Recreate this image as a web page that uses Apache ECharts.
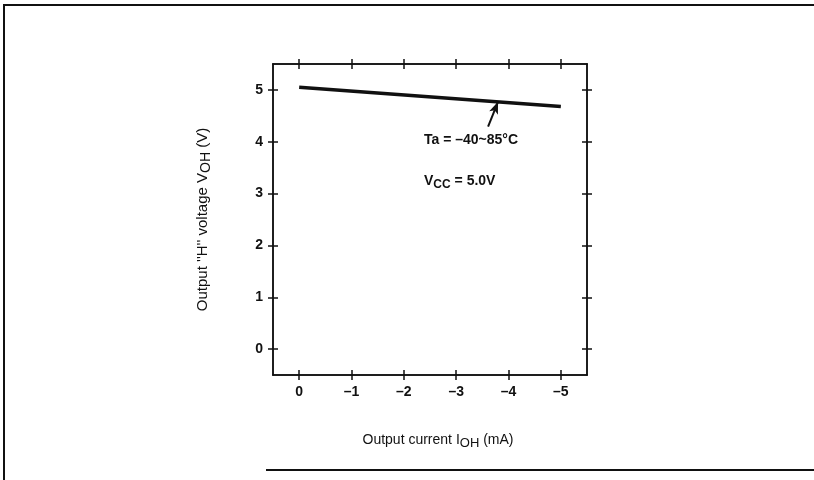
<!DOCTYPE html>
<html>
<head>
<meta charset="utf-8">
<script src="https://cdn.jsdelivr.net/npm/echarts@6/dist/echarts.min.js"></script>
<style>
  html, body { margin: 0; padding: 0; background: #fff; }
  #chart { width: 814px; height: 480px; }
</style>
</head>
<body>
<div id="chart"></div>
<script>
// output current (mA) and output "H" voltage (V)
const currentMA = [0, -5]
const voltageOH = [5.05, 4.68]
const xTicks = [0, -1, -2, -3, -4, -5]
const yTicks = [0, 1, 2, 3, 4, 5]
// arrow from label to the curve
const arrowFrom = [-3.61, 4.29]
const arrowTo = [-3.8, 4.77]

const ink = '#111'
const font = '"Liberation Sans", Arial, sans-serif'
const minus = v => String(v).replace('-', '\u2013')

const xBase = {
  type: 'value', min: -5.5, max: 0.5, inverse: true,
  axisLine: { show: true, onZero: false, lineStyle: { color: ink, width: 1.5 } },
  axisTick: { show: true, customValues: xTicks, length: 5, lineStyle: { color: ink, width: 1.5 } },
  axisLabel: { show: false },
  splitLine: { show: false },
}
const yBase = {
  type: 'value', min: -0.5, max: 5.5,
  axisLine: { show: true, onZero: false, lineStyle: { color: ink, width: 1.5 } },
  axisTick: { show: true, customValues: yTicks, length: 5, lineStyle: { color: ink, width: 1.5 } },
  axisLabel: { show: false },
  splitLine: { show: false },
}
const mk = (base, extra, inside) => Object.assign({}, base, extra, {
  axisTick: Object.assign({}, base.axisTick, { inside: inside }),
})

let options = {
  animation: false,
  backgroundColor: '#fff',
  textStyle: { fontFamily: font },
  grid: { left: 273, top: 64, right: 227, bottom: 105 },
  xAxis: [
    mk(xBase, {
      position: 'bottom',
      axisLabel: {
        show: true, customValues: xTicks, formatter: minus, margin: 10,
        color: ink, fontSize: 14, fontWeight: 'bold', fontFamily: font,
      },
      name: 'Output current I{sub|OH} (mA)',
      nameLocation: 'middle', nameGap: 55,
      nameTextStyle: {
        color: ink, fontSize: 14, fontFamily: font, padding: [0, 0, 0, 16],
        rich: { sub: { fontSize: 13, color: ink, fontFamily: font, padding: [7, 0, 0, 0] } },
      },
    }, false),
    mk(xBase, { position: 'bottom' }, true),
    mk(xBase, { position: 'top' }, false),
    mk(xBase, { position: 'top' }, true),
  ],
  yAxis: [
    mk(yBase, {
      position: 'left',
      axisLabel: {
        show: true, customValues: yTicks, margin: 10,
        color: ink, fontSize: 14, fontWeight: 'bold', fontFamily: font,
      },
      name: "Output ''H'' voltage V{sub|OH} (V)",
      nameLocation: 'middle', nameGap: 60, nameRotate: 90,
      nameTextStyle: {
        color: ink, fontSize: 15, fontFamily: font, padding: [0, 0, 0, 0],
        rich: { sub: { fontSize: 14, color: ink, fontFamily: font, padding: [7, 0, 0, 0] } },
      },
    }, false),
    mk(yBase, { position: 'left' }, true),
    mk(yBase, { position: 'right' }, false),
    mk(yBase, { position: 'right' }, true),
  ],
  series: [
    {
      type: 'line',
      data: currentMA.map((x, i) => [x, voltageOH[i]]),
      showSymbol: false,
      lineStyle: { color: ink, width: 3.5 },
      markLine: {
        silent: true,
        symbol: ['none', 'arrow'],
        symbolSize: [7, 12],
        label: { show: false },
        lineStyle: { color: ink, width: 2, type: 'solid' },
        data: [[{ coord: arrowFrom }, { coord: arrowTo }]],
      },
    },
  ],
  graphic: [
    // outer frame
    { type: 'polyline', shape: { points: [[4, 480], [4, 5], [814, 5]] }, style: { stroke: ink, lineWidth: 2, fill: null } },
    { type: 'line', shape: { x1: 266, y1: 470, x2: 814, y2: 470 }, style: { stroke: ink, lineWidth: 2 } },
    {
      type: 'text', left: 424, top: 133,
      style: { text: 'Ta = \u201340~85\u00b0C', fill: ink, font: 'bold 14px ' + font },
    },
    {
      type: 'text', left: 424, top: 174,
      style: {
        text: 'V{sub|CC} = 5.0V', fill: ink, font: 'bold 14px ' + font,
        rich: { sub: { fontSize: 12, fontWeight: 'bold', fill: ink, fontFamily: font, padding: [7, 0, 0, 0] } },
      },
    },
  ],
}

const chart = echarts.init(document.getElementById('chart'))
chart.setOption(options)
window.addEventListener('resize', function () {
  chart && chart.resize()
})
</script>
</body>
</html>
